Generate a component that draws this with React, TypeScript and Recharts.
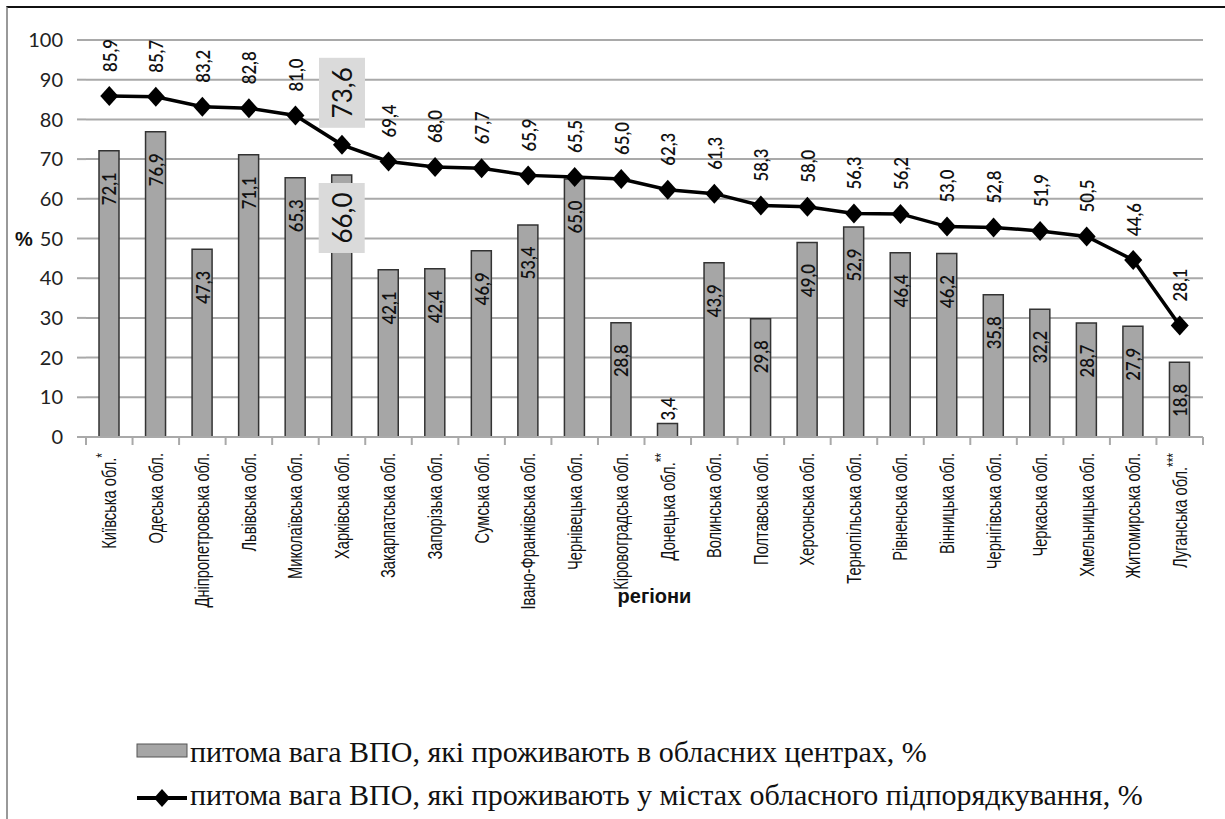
import React from 'react';
import { ComposedChart, Bar, Line, XAxis, YAxis, CartesianGrid, LabelList, Legend } from 'recharts';

const regions = [
  'Київська обл.*', 'Одеська обл.', 'Дніпропетровська обл.', 'Львівська обл.', 'Миколаївська обл.',
  'Харківська обл.', 'Закарпатська обл.', 'Запорізька обл.', 'Сумська обл.', 'Івано-Франківська обл.',
  'Чернівецька обл.', 'Кіровоградська обл.', 'Донецька обл.**', 'Волинська обл.', 'Полтавська обл.',
  'Херсонська обл.', 'Тернопільська обл.', 'Рівненська обл.', 'Вінницька обл.', 'Чернігівська обл.',
  'Черкаська обл.', 'Хмельницька обл.', 'Житомирська обл.', 'Луганська обл.***',
];

// питома вага ВПО в обласних центрах, %
const centres = [
  72.1, 76.9, 47.3, 71.1, 65.3, 66.0, 42.1, 42.4, 46.9, 53.4, 65.0, 28.8,
  3.4, 43.9, 29.8, 49.0, 52.9, 46.4, 46.2, 35.8, 32.2, 28.7, 27.9, 18.8,
];

// питома вага ВПО в містах обласного підпорядкування, %
const cities = [
  85.9, 85.7, 83.2, 82.8, 81.0, 73.6, 69.4, 68.0, 67.7, 65.9, 65.5, 65.0,
  62.3, 61.3, 58.3, 58.0, 56.3, 56.2, 53.0, 52.8, 51.9, 50.5, 44.6, 28.1,
];

const yTicks = [0, 10, 20, 30, 40, 50, 60, 70, 80, 90, 100];
const highlighted = ['Харківська обл.'];

const legendCentres = 'питома вага ВПО, які проживають в обласних центрах, %';
const legendCities = 'питома вага ВПО, які проживають у містах обласного підпорядкування, %';

const data = regions.map((region, i) => ({ region, centres: centres[i], cities: cities[i] }));

const W = 1225;
const H = 819;
const PLOT_LEFT = 86;
const PLOT_RIGHT = 1203;
const BAND = (PLOT_RIGHT - PLOT_LEFT) / regions.length;
const GRID = '#a9a9a9';
const NUM_FONT = 'Lato, "Open Sans", sans-serif';
const SANS = '"Liberation Sans", Arial, sans-serif';
const SERIF = '"Liberation Serif", "Times New Roman", serif';

const fmt = (v: number) => v.toFixed(1).replace('.', ',');

const RegionTick = (props: any) => {
  const { x, y, payload, index } = props;
  const m = String(payload.value).match(/^(.*?)(\*+)$/);
  const main = m ? m[1] : payload.value;
  const stars = m ? m[2] : '';
  return (
    <g>
      <line x1={x - BAND / 2} x2={x - BAND / 2} y1={y} y2={y + 8} stroke={GRID} strokeWidth={2} />
      {index === regions.length - 1 && (
        <line x1={x + BAND / 2} x2={x + BAND / 2} y1={y} y2={y + 8} stroke={GRID} strokeWidth={2} />
      )}
      <text
        transform={`translate(${x},${y + 16}) scale(1,0.7) rotate(-90)`}
        textAnchor="end"
        dominantBaseline="central"
        fontFamily={SANS}
        fontSize={21}
        fill="#111"
      >
        {main}
        {stars && <tspan dy={-7} fontSize={17}>{stars}</tspan>}
      </text>
    </g>
  );
};

const RotatedNumber = ({ x, y, anchor, value }: { x: number; y: number; anchor: string; value: number }) => (
  <text
    transform={`translate(${x},${y}) scale(1,0.88) rotate(-90)`}
    textAnchor={anchor}
    dominantBaseline="central"
    fontFamily={NUM_FONT}
    fontSize={19}
    fontWeight={600}
    fill="#111"
  >
    {fmt(value)}
  </text>
);

const HighlightBox = ({ cx, cy, value }: { cx: number; cy: number; value: number }) => (
  <g>
    <rect x={cx - 23} y={cy - 35} width={46} height={70} fill="#dadada" />
    <text
      transform={`translate(${cx},${cy}) rotate(-90)`}
      textAnchor="middle"
      dominantBaseline="central"
      fontFamily={NUM_FONT}
      fontSize={26}
      fill="#111"
    >
      {fmt(value)}
    </text>
  </g>
);

const BarValueLabel = (props: any) => {
  const { x, y, width, height, value, index } = props;
  const cx = x + width / 2;
  if (highlighted.includes(regions[index])) {
    return <HighlightBox cx={cx} cy={y + 8 + 35} value={value} />;
  }
  if (height < 40) return <RotatedNumber x={cx} y={y - 3} anchor="start" value={value} />;
  return <RotatedNumber x={cx} y={y + 38} anchor="middle" value={value} />;
};

const LineValueLabel = (props: any) => {
  const { x, y, value, index } = props;
  if (highlighted.includes(regions[index])) {
    return <HighlightBox cx={x} cy={y - 17 - 35} value={value} />;
  }
  return <RotatedNumber x={x} y={y - 24} anchor="start" value={value} />;
};

const Diamond = (props: any) => {
  const { cx, cy } = props;
  if (cx == null || cy == null) return null;
  return <path d={`M${cx},${cy - 10}L${cx + 9},${cy}L${cx},${cy + 10}L${cx - 9},${cy}Z`} fill="#000" />;
};

const LegendBox = () => (
  <svg width={W} height={100} style={{ display: 'block' }}>
    <rect x={137} y={25} width={50} height={13} fill="#a6a6a6" stroke="#555" strokeWidth={1} />
    <text x={190} y={43} fontFamily={SERIF} fontSize={30} fill="#111">
      {legendCentres}
    </text>
    <line x1={137} x2={187} y1={79} y2={79} stroke="#000" strokeWidth={4} />
    <path d="M162,70L170,79L162,88L154,79Z" fill="#000" />
    <text x={190} y={86} fontFamily={SERIF} fontSize={30} fill="#111">
      {legendCities}
    </text>
  </svg>
);

export default function App() {
  return (
    <div style={{ position: 'absolute', left: 0, top: 0, width: W, height: H, background: '#fff', overflow: 'hidden' }}>
      <div style={{ position: 'absolute', left: 6, top: 6, right: 0, bottom: 0, borderTop: '2px solid #111', borderLeft: '2px solid #999' }} />
      <ComposedChart
        width={W}
        height={H}
        data={data}
        margin={{ top: 40, right: W - PLOT_RIGHT, left: 0, bottom: 0 }}
        style={{ position: 'absolute', left: 0, top: 0 }}
      >
        <CartesianGrid vertical={false} stroke={GRID} strokeWidth={2} />
        <XAxis
          dataKey="region"
          interval={0}
          height={H - 437 - 100}
          axisLine={{ stroke: GRID, strokeWidth: 2 }}
          tickLine={false}
          tickSize={0}
          tickMargin={0}
          tick={<RegionTick />}
          label={{
            value: 'регіони',
            position: 'insideBottom',
            offset: 116,
            dx: 10,
            style: { fontFamily: SANS, fontSize: 20, fontWeight: 'bold', fill: '#111' },
          }}
        />
        <YAxis
          width={PLOT_LEFT}
          domain={[0, 100]}
          ticks={yTicks}
          interval={0}
          axisLine={false}
          tickLine={{ stroke: GRID, strokeWidth: 2 }}
          tickSize={9}
          tickMargin={14}
          tick={{ fontFamily: NUM_FONT, fontSize: 20, fill: '#222' }}
          label={{
            value: '%',
            position: 'insideLeft',
            offset: 15,
            style: { fontFamily: SANS, fontSize: 20, fontWeight: 'bold', fill: '#111' },
          }}
        />
        <Legend verticalAlign="bottom" align="left" height={100} content={<LegendBox />} wrapperStyle={{ left: 0, width: W }} />
        <Bar dataKey="centres" name={legendCentres} barSize={20} fill="#a6a6a6" stroke="#333" strokeWidth={1.5} isAnimationActive={false}>
          <LabelList dataKey="centres" content={<BarValueLabel />} />
        </Bar>
        <Line dataKey="cities" name={legendCities} stroke="#000" strokeWidth={3.5} dot={<Diamond />} activeDot={false} isAnimationActive={false}>
          <LabelList dataKey="cities" content={<LineValueLabel />} />
        </Line>
      </ComposedChart>
    </div>
  );
}
